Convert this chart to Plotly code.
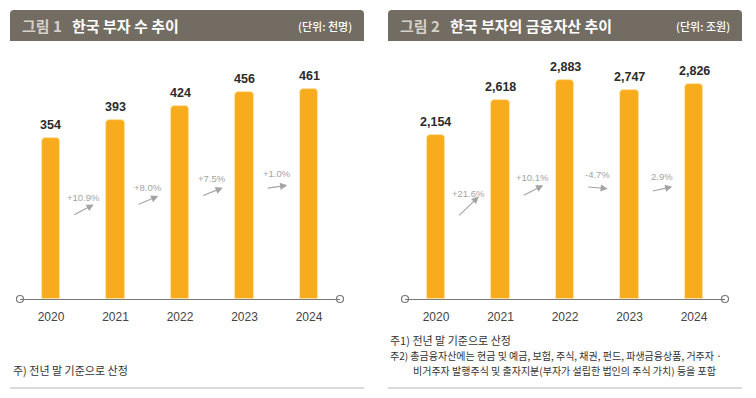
import plotly.graph_objects as go

years = ["2020", "2021", "2022", "2023", "2024"]
rich_count = [354, 393, 424, 456, 461]          # 천명
rich_count_growth = ["+10.9%", "+8.0%", "+7.5%", "+1.0%"]
rich_count_growth_val = [10.9, 8.0, 7.5, 1.0]

fin_assets = [2154, 2618, 2883, 2747, 2826]       # 조원
fin_assets_growth = ["+21.6%", "+10.1%", "-4.7%", "2.9%"]
fin_assets_growth_val = [21.6, 10.1, -4.7, 2.9]

W, H = 756, 398
BAR = "#f7ab1d"
HEAD = "#726c63"
NUM_FONT = "Liberation Sans Narrow, Liberation Sans, Arial, sans-serif"
KR_FONT = "Noto Sans CJK KR, sans-serif"

def px(x):
    return x / W

def py(y):
    return (H - y) / H

fig = go.Figure()

y_base, y_top = 299, 50
panels = [
    dict(xa="x", ya="y", xd=[px(20), px(340)], vals=rich_count, grow=rich_count_growth,
         gval=rich_count_growth_val, scale=0.455, factor=0.6),
    dict(xa="x2", ya="y2", xd=[px(405), px(725)], vals=fin_assets, grow=fin_assets_growth,
         gval=fin_assets_growth_val, scale=0.0761, factor=0.58),
]

annotations = []
for k, p in enumerate(panels):
    xs = list(range(len(years)))
    fig.add_trace(go.Bar(
        x=xs, y=p["vals"], xaxis=p["xa"], yaxis=p["ya"],
        marker=dict(color=BAR, cornerradius=4, line=dict(color="#fde7b0", width=0.8)),
        width=0.29, hoverinfo="skip", showlegend=False,
    ))
    # axis end circles
    fig.add_trace(go.Scatter(
        x=[-0.48, 4.48], y=[0, 0], xaxis=p["xa"], yaxis=p["ya"], mode="markers",
        marker=dict(size=7, color="white", line=dict(color="#777", width=1.2)),
        cliponaxis=False, hoverinfo="skip", showlegend=False,
    ))
    # value labels
    for i, v in enumerate(p["vals"]):
        annotations.append(dict(
            x=i, y=v, xref=p["xa"], yref=p["ya"], text=f"{v:,}", showarrow=False,
            yanchor="bottom", yshift=4,
            font=dict(family=NUM_FONT, size=12.5, color="#2b2b2b", weight="bold"),
        ))
    # growth labels + arrows
    for i, (lab, g) in enumerate(zip(p["grow"], p["gval"])):
        xm = i + 0.5
        ym = p["factor"] * (p["vals"][i] + p["vals"][i + 1]) / 2
        annotations.append(dict(
            x=xm, y=ym, xref=p["xa"], yref=p["ya"], text=lab, showarrow=False,
            yanchor="middle",
            font=dict(family=NUM_FONT, size=9.5, color="#a3a3a3"),
        ))
        dx = 21
        dy = dx * (0.1 + 0.04 * g)
        annotations.append(dict(
            x=xm, y=ym, xref=p["xa"], yref=p["ya"], text="", showarrow=True,
            ax=-dx, ay=dy, xshift=dx / 2, yshift=dy / 2 - 13,
            arrowhead=2, arrowsize=1.3, arrowwidth=1.1, arrowcolor="#a3a3a3", standoff=0,
        ))

yd = [py(y_base), py(y_top)]
common_x = dict(range=[-0.48, 4.48], tickmode="array", tickvals=list(range(5)), ticktext=years,
                showline=True, linecolor="#777", linewidth=1.2, showgrid=False, zeroline=False,
                ticks="outside", ticklen=6, tickcolor="rgba(0,0,0,0)", fixedrange=True,
                tickfont=dict(family=NUM_FONT, size=12, color="#444"))
common_y = dict(showgrid=False, zeroline=False, showticklabels=False, showline=False, fixedrange=True)

fig.update_layout(
    xaxis=dict(domain=panels[0]["xd"], anchor="y", **common_x),
    yaxis=dict(domain=yd, anchor="x", range=[0, (y_base - y_top) / panels[0]["scale"]], **common_y),
    xaxis2=dict(domain=panels[1]["xd"], anchor="y2", **common_x),
    yaxis2=dict(domain=yd, anchor="x2", range=[0, (y_base - y_top) / panels[1]["scale"]], **common_y),
)

# headers
def header_path(x0, x1, ytop, ybot, r=4):
    X0, X1, YT, YB = px(x0), px(x1), py(ytop), py(ybot)
    rx, ry = r / W, r / H
    return (f"M {X0},{YB} L {X0},{YT-ry} Q {X0},{YT} {X0+rx},{YT} "
            f"L {X1-rx},{YT} Q {X1},{YT} {X1},{YT-ry} L {X1},{YB} Z")

shapes = []
for x0, x1 in [(10, 364), (388, 742)]:
    shapes.append(dict(type="path", xref="paper", yref="paper", path=header_path(x0, x1, 10, 41),
                       fillcolor=HEAD, line=dict(width=0), layer="below"))
    shapes.append(dict(type="line", xref="paper", yref="paper", x0=px(x0), x1=px(x1),
                       y0=py(388), y1=py(388), line=dict(color="#b5b5b5", width=1)))

hdr = [
    (20, "그림 1", 70, "한국 부자 수 추이", 354, "(단위: 천명)"),
    (398, "그림 2", 448, "한국 부자의 금융자산 추이", 732, "(단위: 조원)"),
]
for xa, fig_lab, xb, title, xc, unit in hdr:
    annotations.append(dict(x=px(xa), y=py(25.5), xref="paper", yref="paper", text=fig_lab,
                            xanchor="left", yanchor="middle", showarrow=False,
                            font=dict(family=KR_FONT, size=15, color="#d6d1c8", weight="bold")))
    annotations.append(dict(x=px(xb), y=py(25.5), xref="paper", yref="paper", text=title,
                            xanchor="left", yanchor="middle", showarrow=False,
                            font=dict(family=KR_FONT, size=15, color="white", weight="bold")))
    annotations.append(dict(x=px(xc), y=py(26), xref="paper", yref="paper", text=unit,
                            xanchor="right", yanchor="middle", showarrow=False,
                            font=dict(family=KR_FONT, size=11, color="white", weight=500)))

notes = [
    (11, 370, "주) 전년 말 기준으로 산정", 11),
    (388, 340, "주1) 전년 말 기준으로 산정", 11),
    (388, 355, "주2) 총금융자산에는 현금 및 예금, 보험, 주식, 채권, 펀드, 파생금융상품, 거주자 ·", 10),
    (411, 370, "비거주자 발행주식 및 출자지분(부자가 설립한 법인의 주식 가치) 등을 포함", 10),
]
for x, y, t, s in notes:
    annotations.append(dict(x=px(x), y=py(y), xref="paper", yref="paper", text=t,
                            xanchor="left", yanchor="middle", showarrow=False,
                            font=dict(family=KR_FONT, size=s, color="#333")))

fig.update_layout(
    width=W, height=H, margin=dict(l=0, r=0, t=0, b=0),
    paper_bgcolor="white", plot_bgcolor="white",
    annotations=annotations, shapes=shapes, bargap=0,
)

fig.write_html("out.html", config={"displayModeBar": False},
               post_script="document.body.style.margin='0';document.body.style.padding='0';")
